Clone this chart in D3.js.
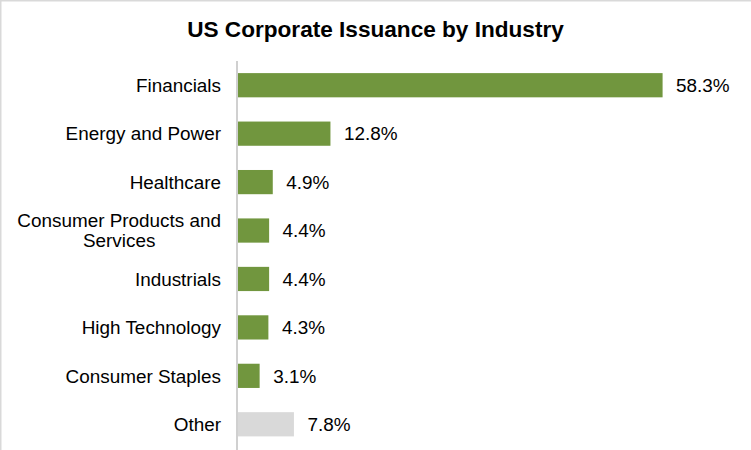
<!DOCTYPE html>
<html>
<head>
<meta charset="utf-8">
<script src="https://cdn.jsdelivr.net/npm/d3@7/dist/d3.min.js"></script>
<style>
  html, body { margin: 0; padding: 0; background: #fff; }
  svg { display: block; }
  text { font-family: "Liberation Sans", Arial, sans-serif; fill: #000; }
</style>
</head>
<body>
<svg id="chart" width="751" height="450"></svg>
<script>
const title = "US Corporate Issuance by Industry";
const categories = ["Financials", "Energy and Power", "Healthcare", "Consumer Products and Services", "Industrials", "High Technology", "Consumer Staples", "Other"];
const labelLines = [["Financials"], ["Energy and Power"], ["Healthcare"], ["Consumer Products and", "Services"], ["Industrials"], ["High Technology"], ["Consumer Staples"], ["Other"]];
const values = [58.3, 12.8, 4.9, 4.4, 4.4, 4.3, 3.1, 7.8];
const valueLabels = ["58.3%", "12.8%", "4.9%", "4.4%", "4.4%", "4.3%", "3.1%", "7.8%"];
const barColors = ["#71963e", "#71963e", "#71963e", "#71963e", "#71963e", "#71963e", "#71963e", "#d9d9d9"];

const svg = d3.select("#chart");
const W = 751, H = 450;

// frame (top and left edges visible)
svg.append("path")
  .attr("d", `M0.75,${H}V0.75H${W}`)
  .attr("fill", "none")
  .attr("stroke", "#d9d9d9")
  .attr("stroke-width", 1.5);

svg.append("text")
  .attr("x", 375.5)
  .attr("y", 37)
  .attr("text-anchor", "middle")
  .style("font-size", "22.6px")
  .style("font-weight", "bold")
  .text(title);

const x0 = 237;
const x = d3.scaleLinear().domain([0, 60]).range([x0, x0 + 438]);
const y = d3.scaleBand().domain(categories).range([61, 448.5]).paddingInner(0.5).paddingOuter(0.25);

// bars
svg.selectAll("rect.bar")
  .data(categories)
  .join("rect")
  .attr("class", "bar")
  .attr("x", x(0))
  .attr("y", d => y(d))
  .attr("width", (d, i) => x(values[i]) - x(0))
  .attr("height", y.bandwidth())
  .attr("fill", (d, i) => barColors[i]);

// axis
const axis = d3.axisLeft(y).tickSize(0).tickSizeOuter(0).tickPadding(16).tickFormat("");
const g = svg.append("g").attr("transform", `translate(${x0},0)`).call(axis);
g.select(".domain").attr("stroke", "#d0d0d0").attr("stroke-width", 2)
  .attr("d", `M0,61V450`);

// category labels
const fs = 18.9;
const labelRight = 221;
labelLines.forEach((lines, i) => {
  const cy = y(categories[i]) + y.bandwidth() / 2;
  const n = lines.length;
  const lh = 20;
  const tg = svg.append("g");
  const texts = lines.map((ln, k) => tg.append("text")
    .attr("y", cy + (k - (n - 1) / 2) * lh + 6.8)
    .style("font-size", fs + "px")
    .text(ln));
  const widths = texts.map(t => t.node().getComputedTextLength());
  const maxW = d3.max(widths);
  const cx = labelRight - maxW / 2;
  texts.forEach(t => t.attr("x", cx).attr("text-anchor", "middle"));
});

// value labels
svg.selectAll("text.val")
  .data(categories)
  .join("text")
  .attr("class", "val")
  .attr("x", (d, i) => x(values[i]) + 13.5)
  .attr("y", d => y(d) + y.bandwidth() / 2 + 6.8)
  .style("font-size", fs + "px")
  .text((d, i) => valueLabels[i]);
</script>
</body>
</html>
